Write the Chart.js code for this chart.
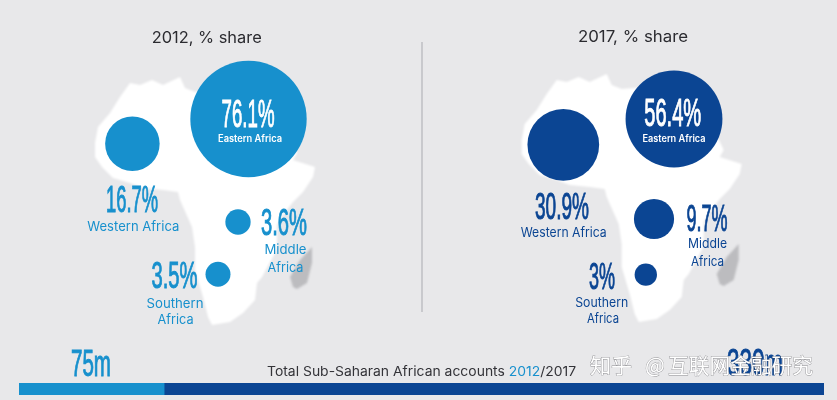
<!DOCTYPE html>
<html>
<head>
<meta charset="utf-8">
<title>Sub-Saharan African accounts</title>
<script src="https://cdn.jsdelivr.net/npm/chart.js@4/dist/chart.umd.min.js"></script>
<style>
html, body { margin: 0; padding: 0; background: #e8e8ea; width: 837px; height: 400px; overflow: hidden; }
#map { position: absolute; left: 0; top: 0; }
#bar { position: absolute; left: 19px; top: 383px; }
</style>
</head>
<body>
<canvas id="map" width="837" height="400"></canvas>
<canvas id="bar" width="805" height="12"></canvas>
<script>
// values
const regions = ['Eastern Africa', 'Western Africa', 'Middle Africa', 'Southern Africa'];
const shares2012 = [76.1, 16.7, 3.6, 3.5];
const shares2017 = [56.4, 30.9, 9.7, 3];
const accountSegments = [75, 341];
const accountLabels = ['75m', '330m'];

const lightBlue = '#1790cd';
const darkBlue = '#0b4593';

// where each bubble sits on the map
const bubbleX2012 = [248.5, 132.4, 238, 218];
const bubbleY2012 = [119, 143.7, 222, 274.3];
const bubbleX2017 = [674, 563.3, 654, 645.8];
const bubbleY2017 = [119, 144.8, 219, 274.7];

function bubbles(xs, ys, shares, k) {
    return shares.map((v, i) => ({ x: xs[i], y: ys[i], r: k * Math.sqrt(v) }));
}

// africa outline, 2012 panel
const africa = [[130,83],[140,85],[152,80],[163,85],[180,77],[185,88],[195,92],[220,90],[247,100],[280,117],
    [297,153],[293,160],[315,167],[313,177],[303,192],[293,202],[283,215],[277,225],[277,247],[275,253],
    [262,277],[257,283],[255,300],[243,313],[230,322],[212,325],[208,317],[203,297],[195,270],[195,247],
    [192,227],[180,200],[178,192],[163,190],[143,188],[130,183],[113,178],[102,167],[95,157],[95,143],
    [98,127],[110,113],[120,97]];
const madagascar = [[293,287],[290,277],[300,260],[312,247],[312,263],[307,283],[297,289]];

const numFont = '"Liberation Sans"';
const txtFont = 'Inter';
// text placed as [text, centre x, baseline, font size, width, colour, kind]
const labels = [
    ['2012, % share', 206.7, 43, 16, 110, '#2b2b30', 't'],
    ['2017, % share', 633, 42, 16, 110, '#2b2b30', 't'],

    [shares2012[0] + '%', 248, 126.7, 39, 53, '#ffffff', 'n'],
    [regions[0], 250, 142, 10, 64, '#ffffff', 'b'],
    [shares2012[1] + '%', 132, 211.7, 36, 52, lightBlue, 'n'],
    [regions[1], 133.3, 230.7, 13, 92, lightBlue, 't'],
    [shares2012[2] + '%', 284, 235, 36, 46, lightBlue, 'n'],
    ['Middle', 285.5, 254, 13, 42, lightBlue, 't'],
    ['Africa', 285.5, 271.7, 13, 36, lightBlue, 't'],
    [shares2012[3] + '%', 174.5, 288, 36, 46, lightBlue, 'n'],
    ['Southern', 175, 307.7, 13, 57, lightBlue, 't'],
    ['Africa', 175.6, 324, 13, 36, lightBlue, 't'],

    [shares2017[0] + '%', 672.7, 126, 38, 57, '#ffffff', 'n'],
    [regions[0], 674, 141.7, 10, 63, '#ffffff', 'b'],
    [shares2017[1] + '%', 562, 219, 36, 54, darkBlue, 'n'],
    [regions[1], 563.7, 236.7, 13, 86, darkBlue, 't'],
    [shares2017[2] + '%', 707, 230.7, 36, 41, darkBlue, 'n'],
    ['Middle', 707.5, 247.7, 13, 39, darkBlue, 't'],
    ['Africa', 707.5, 265.7, 13, 33, darkBlue, 't'],
    [shares2017[3] + '%', 602, 289, 36, 26, darkBlue, 'n'],
    ['Southern', 601.7, 306.7, 13, 53, darkBlue, 't'],
    ['Africa', 603, 322.7, 13, 32, darkBlue, 't'],

    [accountLabels[0], 91, 376, 36, 40, lightBlue, 'n'],
    [accountLabels[1], 755, 375, 36, 56, darkBlue, 'n']
];

function fitText(ctx, text, cx, base, size, width, color, kind) {
    let font = size + 'px ' + txtFont;
    if (kind == 'n') font = size + 'px ' + numFont;
    if (kind == 'b') font = '600 ' + size + 'px ' + txtFont;
    ctx.save();
    ctx.font = font;
    ctx.fillStyle = color;
    ctx.strokeStyle = color;
    ctx.lineWidth = 1;
    ctx.textAlign = 'center';
    ctx.textBaseline = 'alphabetic';
    const sx = width / ctx.measureText(text).width;
    ctx.translate(cx, base);
    ctx.scale(sx, 1);
    ctx.fillText(text, 0, 0);
    // condensed digits come out too thin without this
    if (kind == 'n') ctx.strokeText(text, 0, 0);
    ctx.restore();
}

function fillShape(chart, pts, dx, dy, color) {
    const ctx = chart.ctx, xs = chart.scales.x, ys = chart.scales.y;
    ctx.beginPath();
    pts.forEach((p, i) => {
        const px = xs.getPixelForValue(p[0] + dx), py = ys.getPixelForValue(p[1] + dy);
        if (i == 0) ctx.moveTo(px, py); else ctx.lineTo(px, py);
    });
    ctx.closePath();
    ctx.fillStyle = color;
    ctx.fill();
}

const backdrop = {
    id: 'backdrop',
    beforeDatasetsDraw(chart) {
        const ctx = chart.ctx;
        ctx.save();
        ctx.filter = 'blur(0.8px)';
        fillShape(chart, madagascar, 0, 0, '#bcbcbf');
        fillShape(chart, madagascar, 426.7, -3, '#bcbcbf');
        fillShape(chart, africa, 0, 0, '#ffffff');
        fillShape(chart, africa, 426.7, -3, '#ffffff');
        ctx.restore();
        ctx.save();
        ctx.strokeStyle = '#a9aab0';
        ctx.lineWidth = 1;
        ctx.beginPath();
        ctx.moveTo(422, 42);
        ctx.lineTo(422, 312);
        ctx.stroke();
        ctx.restore();
    }
};

const texts = {
    id: 'texts',
    afterDatasetsDraw(chart) {
        const ctx = chart.ctx;
        labels.forEach(l => fitText(ctx, l[0], l[1], l[2], l[3], l[4], l[5], l[6]));

        // caption with the two year colours
        ctx.save();
        ctx.font = '13px ' + txtFont;
        ctx.textBaseline = 'alphabetic';
        const parts = [['Total Sub-Saharan African accounts ', '#333338'], ['2012', lightBlue], ['/2017', '#333338']];
        const full = parts.map(p => p[0]).join('');
        const sx = 309 / ctx.measureText(full).width;
        ctx.translate(267, 376);
        ctx.scale(sx, 1);
        let x = 0;
        parts.forEach(p => {
            ctx.fillStyle = p[1];
            ctx.fillText(p[0], x, 0);
            x += ctx.measureText(p[0]).width;
        });
        ctx.restore();

        // watermark over the corner
        ctx.save();
        ctx.font = '21px "Noto Sans CJK SC"';
        ctx.textBaseline = 'alphabetic';
        ctx.lineWidth = 0.8;
        ctx.strokeStyle = 'rgba(80,80,85,0.6)';
        ctx.fillStyle = '#ffffff';
        [['知乎', 590, 42], ['@', 645, 21], ['互联网金融研究', 668, 145]].forEach(w => {
            ctx.strokeText(w[0], w[1], 373, w[2]);
            ctx.fillText(w[0], w[1], 373, w[2]);
        });
        ctx.restore();
    }
};

const hiddenAxis = { display: false };

new Chart(document.getElementById('map'), {
    type: 'bubble',
    data: {
        datasets: [
            { label: '2012', data: bubbles(bubbleX2012, bubbleY2012, shares2012, 6.67), backgroundColor: lightBlue, borderWidth: 0 },
            { label: '2017', data: bubbles(bubbleX2017, bubbleY2017, shares2017, 6.45), backgroundColor: darkBlue, borderWidth: 0 }
        ]
    },
    options: {
        responsive: false,
        animation: false,
        devicePixelRatio: 1,
        layout: { padding: 0, autoPadding: false },
        scales: {
            x: { ...hiddenAxis, type: 'linear', min: 0, max: 837 },
            y: { ...hiddenAxis, type: 'linear', min: 0, max: 400, reverse: true }
        },
        plugins: { legend: { display: false }, tooltip: { enabled: false } }
    },
    plugins: [backdrop, texts]
});

new Chart(document.getElementById('bar'), {
    type: 'bar',
    data: {
        labels: ['Accounts'],
        datasets: [
            { label: '2012', data: [accountSegments[0]], backgroundColor: lightBlue, borderWidth: 0 },
            { label: '2017', data: [accountSegments[1]], backgroundColor: darkBlue, borderWidth: 0 }
        ]
    },
    options: {
        indexAxis: 'y',
        responsive: false,
        animation: false,
        devicePixelRatio: 1,
        layout: { padding: 0, autoPadding: false },
        datasets: { bar: { barPercentage: 1, categoryPercentage: 1 } },
        scales: {
            x: { ...hiddenAxis, stacked: true, min: 0, max: accountSegments[0] + accountSegments[1] },
            y: { ...hiddenAxis, stacked: true }
        },
        plugins: { legend: { display: false }, tooltip: { enabled: false } }
    }
});
</script>
</body>
</html>
